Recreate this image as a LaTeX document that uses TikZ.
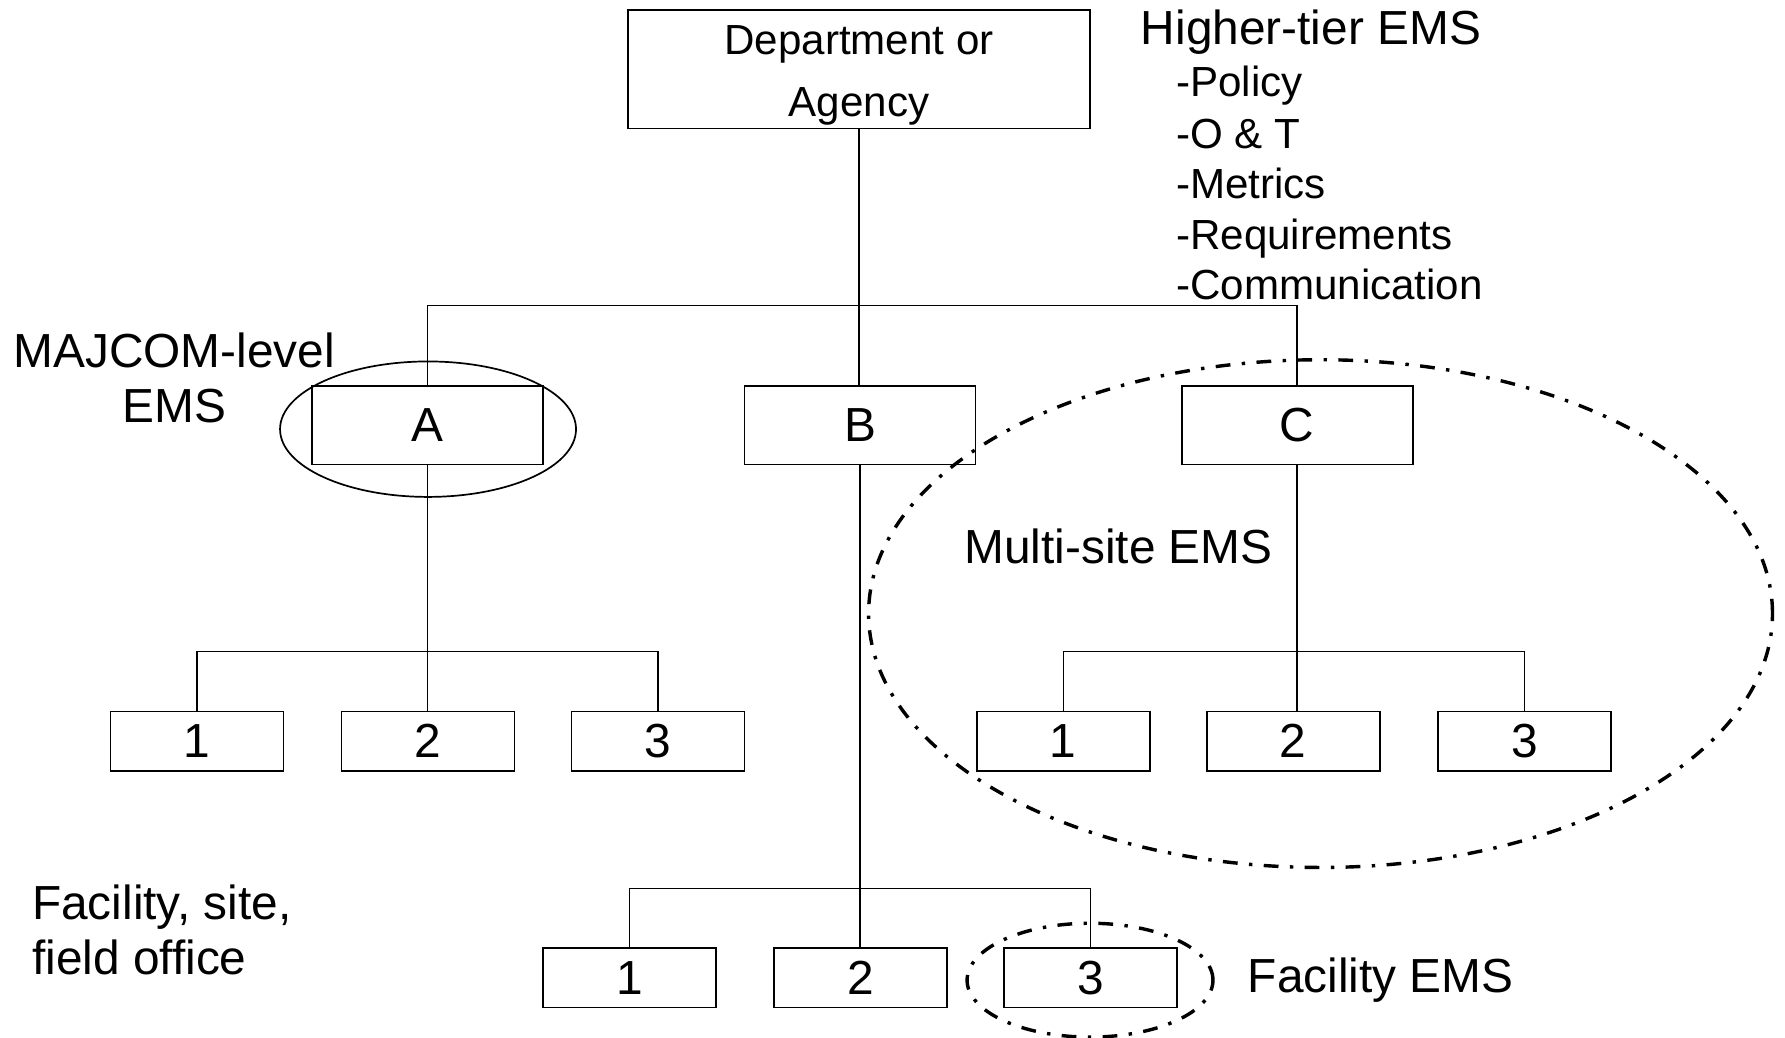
\documentclass[tikz,border=0pt]{standalone}
\usepackage{fontspec}
\setmainfont{Liberation Sans}
\usetikzlibrary{shapes.geometric}
\begin{document}
\begin{tikzpicture}[x=1pt,y=-1pt,
  big/.style={inner sep=0pt, font=\fontsize{42}{48}\selectfont},
  mid/.style={inner sep=0pt, font=\fontsize{37}{44.7}\selectfont},
  box/.style={draw, line width=1.5pt, inner sep=0pt, minimum width=203pt, minimum height=69pt, font=\fontsize{42}{48}\selectfont},
  leaf/.style={draw, line width=1.5pt, inner sep=0pt, minimum width=152pt, minimum height=52pt, font=\fontsize{42}{48}\selectfont},
  link/.style={line width=1.3pt},
  dashdot/.style={draw, ellipse, inner sep=0pt, line width=3pt, dash pattern=on 13pt off 10pt on 3pt off 10pt}]
\useasboundingbox (0,0) rectangle (1568,911);
% top box
\node[draw, line width=1.5pt, inner sep=0pt, minimum width=406pt, minimum height=104pt] (dept) at (754.6,61) {};
\node[mid, anchor=base] (dt1) at (754.6,48) {Department or};
\node[mid, anchor=base] (dt2) at (754.6,102) {Agency};
% level 1
\node[box] (A) at (375.5,373.5) {A};
\node[box] (B) at (755.5,373.5) {B};
\node[box] (C) at (1139.5,373.5) {C};
% level 2 under A
\node[leaf] (a1) at (173,651) {1};
\node[leaf] (a2) at (376,651) {2};
\node[leaf] (a3) at (578,651) {3};
% level 2 under C
\node[leaf] (c1) at (934,651) {1};
\node[leaf] (c2) at (1136,651) {2};
\node[leaf] (c3) at (1339,651) {3};
% level 2 under B
\node[leaf] (b1) at (553,859) {1};
\node[leaf] (b2) at (756,859) {2};
\node[leaf] (b3) at (958,859) {3};
% connectors
\draw[link] (dept.south) -- (dept.south |- B.north);
\draw[link] (A.north) -- ++(0,-70) -| (C.north);
\draw[link] (A.south) -- (A.south |- a2.north);
\draw[link] (a1.north) -- ++(0,-52) -| (a3.north);
\draw[link] (C.south) -- (C.south |- c2.north);
\draw[link] (c1.north) -- ++(0,-52) -| (c3.north);
\draw[link] (B.south) -- (B.south |- b2.north);
\draw[link] (b1.north) -- ++(0,-52) -| (b3.north);
% ellipses
\node[draw, ellipse, inner sep=0pt, line width=1.5pt, minimum width=260pt, minimum height=119pt] (ellA) at (376,377) {};
\node[dashdot, minimum width=794pt, minimum height=446pt] (ellC) at (1160,539) {};
\node[dashdot, minimum width=216pt, minimum height=100pt] (ellF) at (957.5,861) {};
% labels
\node[big, anchor=base west] (hier) at (1002,39) {Higher-tier EMS};
\node[mid, anchor=base west] (l1) at (1033,84.9) {-Policy};
\node[mid, anchor=base west] (l2) at (1033,130.3) {-O \& T};
\node[mid, anchor=base west] (l3) at (1033,174.2) {-Metrics};
\node[mid, anchor=base west] (l4) at (1033,219.6) {-Requirements};
\node[mid, anchor=base west] (l5) at (1033,263.5) {-Communication};
\node[big, anchor=base] (maj1) at (153,323) {MAJCOM-level};
\node[big, anchor=base] (maj2) at (153,370.7) {EMS};
\node[big, anchor=base west] (multi) at (847,494.6) {Multi-site EMS};
\node[big, anchor=base west] (fac1) at (28,808) {Facility, site,};
\node[big, anchor=base west] (fac2) at (28,856) {field office};
\node[big, anchor=base west] (facems) at (1096,872) {Facility EMS};
\end{tikzpicture}
\end{document}
